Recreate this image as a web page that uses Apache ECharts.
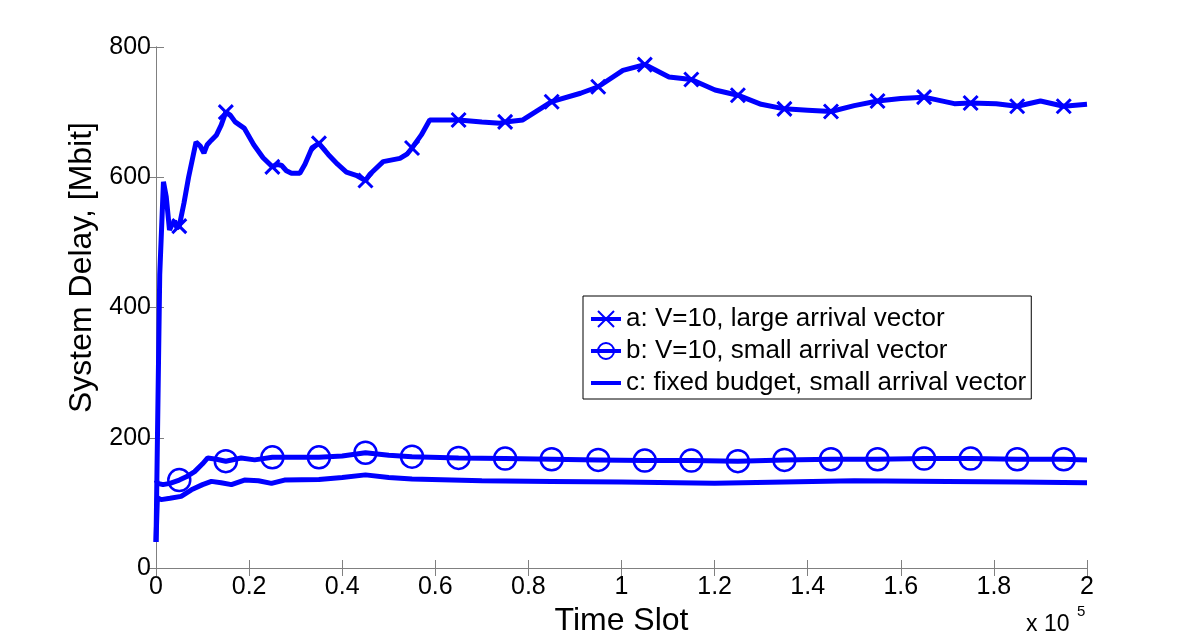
<!DOCTYPE html>
<html>
<head>
<meta charset="utf-8">
<script src="https://cdn.jsdelivr.net/npm/echarts@6/dist/echarts.min.js"></script>
<style>
html,body{margin:0;padding:0;background:#fff;overflow:hidden;}
#c{width:1200px;height:639px;}
</style>
</head>
<body>
<div id="c"></div>
<script>
// x in units of 10^5 time slots
const aX = [0,0.008,0.016,0.022,0.029,0.035,0.04,0.045,0.05,0.06,0.07,0.086,0.095,0.103,0.11,0.119,0.13,0.14,0.15,0.16,0.17,0.18,0.19,0.21,0.23,0.25,0.26,0.27,0.28,0.291,0.309,0.32,0.335,0.35,0.37,0.39,0.409,0.43,0.45,0.46,0.488,0.524,0.54,0.55,0.57,0.588,0.62,0.65,0.7,0.739,0.75,0.788,0.85,0.912,0.95,1.003,1.05,1.102,1.15,1.201,1.25,1.3,1.35,1.4,1.45,1.5,1.55,1.6,1.65,1.715,1.75,1.805,1.85,1.9,1.95,2.0];
const aY = [40,450,593,570,519,528,533,522,525,560,600,654,648,637,650,657,665,680,700,695,685,680,675,650,630,616,620,618,610,606,606,620,645,652,635,620,608,603,595,605,624,629,636,645,665,688,688,688,685,683,685,688,716,729,739,764,773,754,750,734,726,712,705,703,701,710,717,721,723,713,714,713,709,717,709,712];

const bX = [0,0.004,0.015,0.03,0.05,0.065,0.083,0.1,0.111,0.13,0.15,0.183,0.212,0.25,0.3,0.35,0.4,0.45,0.5,0.55,0.65,0.75,0.85,0.95,1.05,1.15,1.25,1.35,1.45,1.55,1.65,1.75,1.85,1.95,2.0];
const bY = [135,130,128,130,135,140,148,160,169,167,164,169,166,170,170,170,172,177,173,171,169,168,167,166,165,165,164,166,167,167,168,168,167,167,166];

const cX = [0,0.003,0.011,0.03,0.054,0.076,0.1,0.119,0.14,0.162,0.19,0.22,0.248,0.276,0.35,0.4,0.45,0.5,0.55,0.7,0.85,1.0,1.2,1.35,1.5,1.7,1.85,2.0];
const cY = [40,108,105,107,110,120,128,133,131,128,135,134,130,135,136,139,143,139,136.5,134,133,132,130,132,134,133,132,131];

const markerX = [0.05,0.15,0.25,0.35,0.45,0.55,0.65,0.75,0.85,0.95,1.05,1.15,1.25,1.35,1.45,1.55,1.65,1.75,1.85,1.95];

const names = ['a: V=10, large arrival vector','b: V=10, small arrival vector','c: fixed budget, small arrival vector'];
const xTicks = {min:0, max:2, interval:0.2};
const yTicks = {min:0, max:800, interval:200};

function build(xs, ys, withMarkers){
  return xs.map((x,i)=>{
    const isM = withMarkers && markerX.some(m=>Math.abs(m-x)<1e-9);
    return isM ? {value:[x,ys[i]]} : {value:[x,ys[i]], symbol:'none'};
  });
}

const blue = '#0000ff';
const font = '"Liberation Sans", Arial, Helvetica, sans-serif';
const chart = echarts.init(document.getElementById('c'), null, {renderer:'canvas'});
const axisCol = '#808080';
chart.setOption({
  animation:false,
  backgroundColor:'#fff',
  textStyle:{fontFamily:font},
  grid:{left:156, right:113, top:47, bottom:71, outerBoundsMode:'none', containLabel:false},
  legend:{
    orient:'vertical', left:583, top:296,
    backgroundColor:'#fff', borderColor:'#000', borderWidth:1,
    padding:[10,5,3,6], itemGap:6, itemWidth:30, itemHeight:20,
    lineStyle:{width:4},
    textStyle:{fontSize:26, lineHeight:26, color:'#000', fontFamily:font},
    data:names
  },
  xAxis:[{
    type:'value', min:xTicks.min, max:xTicks.max, interval:xTicks.interval,
    name:'Time Slot', nameLocation:'middle', nameGap:33,
    nameTextStyle:{fontSize:32, color:'#000', fontFamily:font},
    axisLine:{lineStyle:{color:axisCol, width:1}},
    axisTick:{inside:true, length:8, lineStyle:{color:axisCol}},
    axisLabel:{fontSize:25, color:'#000', margin:7, fontFamily:font},
    splitLine:{show:false}
  },{
    type:'value', position:'top', min:xTicks.min, max:xTicks.max, interval:xTicks.interval,
    axisLine:{lineStyle:{color:axisCol, width:1}},
    axisTick:{inside:true, length:8, lineStyle:{color:axisCol}},
    axisLabel:{show:false}, splitLine:{show:false}
  }],
  yAxis:[{
    type:'value', min:yTicks.min, max:yTicks.max, interval:yTicks.interval,
    name:'System Delay, [Mbit]', nameLocation:'middle', nameGap:54,
    nameTextStyle:{fontSize:32, color:'#000', fontFamily:font, padding:[0,0,0,80]},
    axisLine:{show:true, lineStyle:{color:axisCol, width:1}},
    axisTick:{show:true, inside:true, length:8, lineStyle:{color:axisCol}},
    axisLabel:{fontSize:25, color:'#000', margin:5, fontFamily:font},
    splitLine:{show:false}
  },{
    type:'value', position:'right', min:yTicks.min, max:yTicks.max, interval:yTicks.interval,
    axisLine:{show:true, lineStyle:{color:axisCol, width:1}},
    axisTick:{show:true, inside:true, length:8, lineStyle:{color:axisCol}},
    axisLabel:{show:false}, splitLine:{show:false}
  }],
  graphic:[{
    type:'text', left:1026, top:613,
    style:{text:'x 10', fontSize:23, fontFamily:font, fill:'#000'}
  },{
    type:'text', left:1077, top:604,
    style:{text:'5', fontSize:15, fontFamily:font, fill:'#000'}
  }],
  series:[{
    name:names[0], type:'line', data:build(aX,aY,true),
    symbol:'path://M0,0L10,10M10,0L0,10', symbolSize:14,
    lineStyle:{color:blue, width:5},
    itemStyle:{color:blue, borderColor:blue, borderWidth:3},
    z:3
  },{
    name:names[1], type:'line', data:build(bX,bY,true),
    symbol:'circle', symbolSize:22,
    lineStyle:{color:blue, width:5},
    itemStyle:{color:'rgba(0,0,255,0)', borderColor:blue, borderWidth:2.5},
    z:3
  },{
    name:names[2], type:'line', data:build(cX,cY,false),
    symbol:'circle', symbolSize:2,
    lineStyle:{color:blue, width:5},
    itemStyle:{color:'rgba(0,0,0,0)', borderColor:'rgba(0,0,0,0)', borderWidth:0},
    z:3
  }]
});
</script>
</body>
</html>
